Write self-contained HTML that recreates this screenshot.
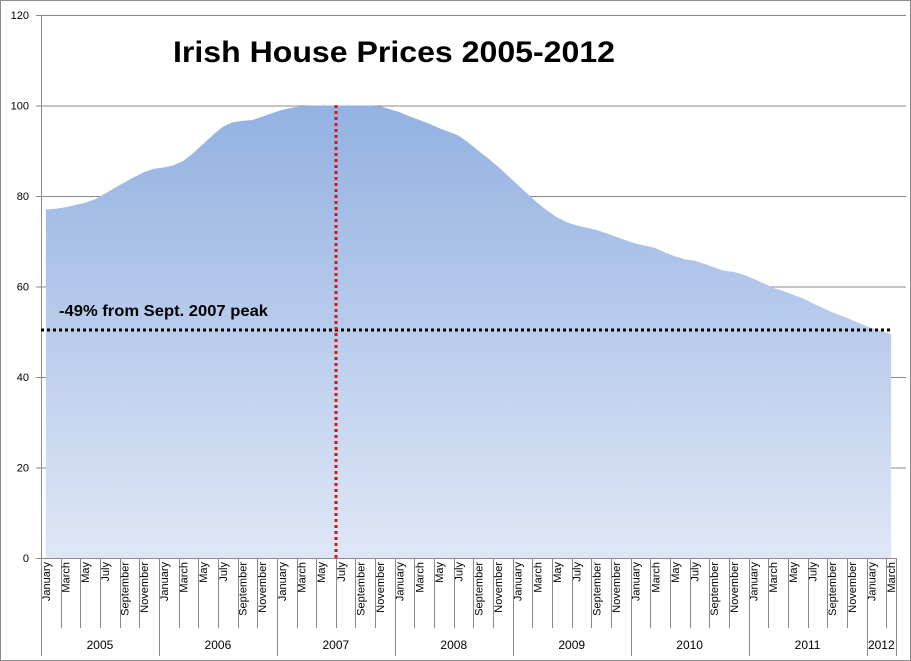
<!DOCTYPE html>
<html><head><meta charset="utf-8"><style>
html,body{margin:0;padding:0;background:#fff}
svg{display:block}
text{font-family:"Liberation Sans",sans-serif}
</style></head><body>
<svg id="s" width="911" height="661" xmlns="http://www.w3.org/2000/svg">
<defs><linearGradient id="g" x1="0" y1="0" x2="0" y2="1">
<stop offset="0" stop-color="#93b1e2"/><stop offset="1" stop-color="#dfe7f6"/></linearGradient></defs>
<rect x="0.5" y="0.5" width="910" height="660" fill="#fff" stroke="#8c8c8c"/>
<g id="grid" stroke="#8a8a8a" stroke-width="1"></g>
<path id="area" fill="url(#g)"/>
<g id="ax" stroke="#8a8a8a" stroke-width="1"></g>
<g id="lab" font-size="11" fill="#000"></g>
<text x="173" y="62" font-size="30" font-weight="bold" textLength="442" lengthAdjust="spacingAndGlyphs">Irish House Prices 2005-2012</text>
<text x="59" y="316" font-size="15.5" font-weight="bold" textLength="209" lengthAdjust="spacingAndGlyphs">-49% from Sept. 2007 peak</text>
<line x1="41" y1="330" x2="893" y2="330" stroke="#000" stroke-width="3" stroke-dasharray="3,3"/>
<line x1="336" y1="105" x2="336" y2="558" stroke="#e0101a" stroke-width="3" stroke-dasharray="3,3"/>
</svg>
<script>
var v=[77,77.2,77.5,78,78.5,79.3,80.5,81.8,83,84.2,85.3,86,
86.3,86.8,87.8,89.5,91.5,93.5,95.3,96.3,96.6,96.8,97.5,98.3,
99,99.5,99.8,100,100,100,100,100,100,100,99.8,99.2,
98.5,97.6,96.8,96,95,94.2,93.3,91.8,90,88.3,86.5,84.5,
82.5,80.5,78.5,76.8,75.3,74.2,73.5,73,72.5,71.8,71,70.2,
69.5,69,68.5,67.5,66.7,66,65.7,65,64.2,63.5,63.2,62.6,
61.7,60.7,59.7,59,58.2,57.4,56.3,55.3,54.3,53.5,52.6,51.7,
50.8,50.2,49.5];
var X0=41,W=9.828,Y0=558,K=4.525;
function y(val){return Y0-val*K}
var d="M"+(X0+W/2)+","+Y0;
v.forEach(function(a,i){d+=" L"+(X0+W*(i+0.5)).toFixed(1)+","+y(a).toFixed(1)});
d+=" L"+(X0+W*(v.length-0.5))+","+Y0+" Z";
document.getElementById("area").setAttribute("d",d);
var ns="http://www.w3.org/2000/svg";
function el(p,t,at,tx){var e=document.createElementNS(ns,t);for(var k in at)e.setAttribute(k,at[k]);if(tx)e.textContent=tx;document.getElementById(p).appendChild(e);}
for(var i=1;i<=6;i++){var yy=Y0-i*20*K+0.5;el("grid","line",{x1:X0,y1:yy,x2:906,y2:yy});}
for(var i=0;i<=6;i++){var yy=Y0-i*20*K;el("ax","line",{x1:36,y1:yy+0.5,x2:X0,y2:yy+0.5});
el("lab","text",{x:29,y:yy+4,"text-anchor":"end"},""+i*20);}
el("ax","line",{x1:X0+0.5,y1:15,x2:X0+0.5,y2:656});
el("ax","line",{x1:X0,y1:Y0+0.5,x2:896,y2:Y0+0.5});
var M=["January","February","March","April","May","June","July","August","September","October","November","December"];
for(var i=0;i<=v.length;i++){var x=Math.round(X0+W*i)+0.5;var yr=(i%12==0||i==v.length);
if(i%2==0||yr)el("ax","line",{x1:x,y1:Y0,x2:x,y2:yr?656:628});}
for(var i=0;i<v.length;i+=2){var cx=X0+W*(i+0.5)+4;
el("lab","text",{x:0,y:0,"text-anchor":"end",transform:"translate("+cx+",562) rotate(-90)"},M[i%12]);}
var yrs=[2005,2006,2007,2008,2009,2010,2011];
yrs.forEach(function(a,i){el("lab","text",{x:X0+W*(i*12+6),y:649,"text-anchor":"middle","font-size":"12"},""+a);});
el("lab","text",{x:X0+W*85.5,y:649,"text-anchor":"middle","font-size":"12"},"2012");
</script>
</body></html>
